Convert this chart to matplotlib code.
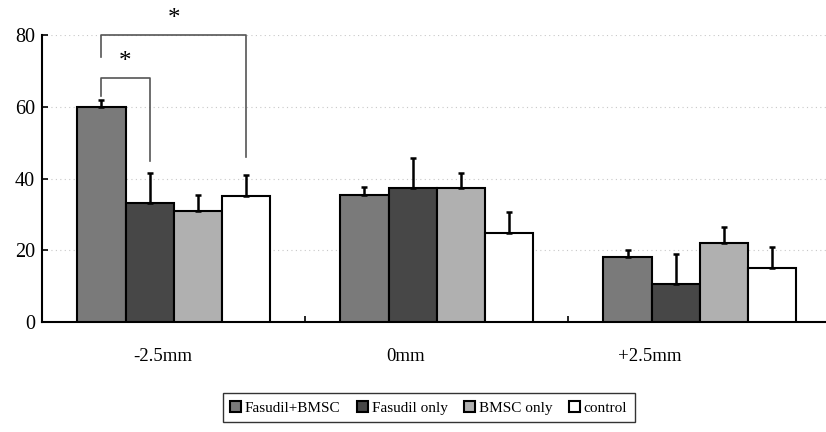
import matplotlib.pyplot as plt
import numpy as np

plt.rcParams['font.family'] = ['Liberation Serif', 'DejaVu Serif']

categories = ['-2.5mm', '0mm', '+2.5mm']
series = ['Fasudil+BMSC', 'Fasudil only', 'BMSC only', 'control']
means = [
    [60.0, 35.5, 18.0],
    [33.2, 37.3, 10.6],
    [31.0, 37.3, 22.0],
    [35.1, 24.8, 15.0],
]
errors = [
    [2.0, 2.2, 2.0],
    [8.3, 8.4, 8.3],
    [4.5, 4.2, 4.5],
    [6.0, 5.8, 5.9],
]
colors = ['#7a7a7a', '#474747', '#b0b0b0', '#ffffff']

fig = plt.figure(figsize=(8.26, 4.32), dpi=100)
ax = fig.add_axes([0.051, 0.2546, 0.949, 0.6644])

x = np.arange(len(categories))
width = 0.183
for i, name in enumerate(series):
    pos = x + (i - 1.5) * width
    ax.bar(pos, means[i], width, color=colors[i], edgecolor='black',
           linewidth=1.5, label=name, zorder=3)
    ax.errorbar(pos, means[i], yerr=[np.zeros(3), errors[i]], fmt='none',
                ecolor='black', elinewidth=1.8, capsize=2.5, capthick=1.8,
                zorder=4)

ax.set_ylim(0, 80)
ax.set_xlim(-0.5, 2.48)
ax.set_yticks([0, 20, 40, 60, 80])
ax.yaxis.grid(True, linestyle=(0, (1, 3)), color='#c8c8c8', linewidth=0.8)
ax.set_axisbelow(True)

# group separators as ticks, labels slightly left of bar groups
ax.set_xticks([0.5, 1.5])
ax.set_xticklabels([])
ax.tick_params(axis='x', direction='in', length=4, width=1.2)
ax.tick_params(axis='y', direction='in', length=4, width=1.2, labelsize=14.5, pad=5)
for xc, lab in zip([-0.04, 0.88, 1.81], categories):
    ax.text(xc, -7.2, lab, ha='center', va='top', fontsize=13.5)

for s in ['top', 'right']:
    ax.spines[s].set_visible(False)
ax.spines['left'].set_linewidth(1.5)
ax.spines['bottom'].set_linewidth(1.5)

# significance brackets
b1 = -1.5 * width
b2 = -0.5 * width
b4 = 1.5 * width
br = dict(color='#555555', linewidth=1.2, clip_on=False, zorder=5)
ax.plot([b1, b1, b2, b2], [63, 68, 68, 45], **br)
ax.text((b1 + b2) / 2, 69.5, '*', ha='center', va='bottom', fontsize=18)
ax.plot([b1, b1, b4, b4], [74, 80, 80, 46], **br)
ax.text((b1 + b4) / 2, 81.5, '*', ha='center', va='bottom', fontsize=18)

leg = fig.legend(loc='lower center', bbox_to_anchor=(0.519, 0.005), ncol=4,
                 fontsize=11, frameon=True, fancybox=False, edgecolor='black',
                 handlelength=0.7, handleheight=0.7, handletextpad=0.25,
                 columnspacing=1.1, borderpad=0.5)
leg.get_frame().set_linewidth(1.0)

fig.savefig('out.png', dpi=100)
